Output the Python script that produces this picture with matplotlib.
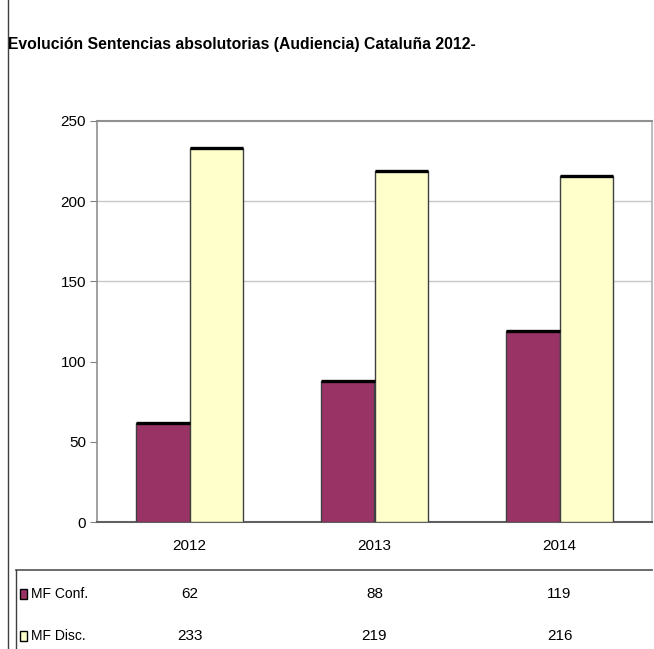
import matplotlib
matplotlib.use("Agg")
import matplotlib.pyplot as plt
import numpy as np
from matplotlib.lines import Line2D
from matplotlib.patches import Rectangle

title = "Evolución Sentencias absolutorias (Audiencia) Cataluña 2012-"
years = ["2012", "2013", "2014"]
series_names = ["MF Conf.", "MF Disc."]
mf_conf = [62, 88, 119]
mf_disc = [233, 219, 216]
colors = ["#993366", "#FFFFCC"]
yticks = [0, 50, 100, 150, 200, 250]

plt.rcParams['font.family'] = ['Liberation Sans', 'DejaVu Sans']
fs = 11
tfs = 11.3

W, H = 654, 649
fig = plt.figure(figsize=(W / 100, H / 100), dpi=100)

def fx(px):
    return px / W

def fy(py):
    return 1 - py / H

ax = fig.add_axes([fx(97), fy(522), fx(652) - fx(97), fy(121) - fy(522)])
x = np.arange(len(years))
bw = 0.287
vals = [mf_conf, mf_disc]
for i, (v, c) in enumerate(zip(vals, colors)):
    pos = x + (i - 0.5) * bw
    ax.bar(pos, v, width=bw, color=c, edgecolor="#404040", linewidth=1.0, zorder=3)
    ax.hlines(v, pos - bw / 2, pos + bw / 2, colors="black", linewidth=2.4, zorder=4)

ax.set_xlim(-0.5, len(years) - 0.5)
ax.set_ylim(0, 250)
ax.set_yticks(yticks)
ax.set_yticklabels([str(t) for t in yticks], fontsize=fs)
ax.set_xticks(x)
ax.set_xticklabels(years, fontsize=fs)
ax.tick_params(axis="x", length=0, pad=12)
ax.tick_params(axis="y", length=5, color="#808080", pad=3)
for g in [150, 200]:
    ax.axhline(g, color="#C8C8C8", linewidth=1.0, zorder=1)
ax.spines["left"].set_color("#909090")
ax.spines["left"].set_linewidth(1.2)
ax.spines["bottom"].set_color("#606060")
ax.spines["bottom"].set_linewidth(1.5)
ax.spines["top"].set_color("#909090")
ax.spines["top"].set_linewidth(1.5)
ax.spines["right"].set_color("#B0B0B0")
ax.spines["right"].set_linewidth(1.2)

# Title
fig.text(fx(8), fy(45), title, fontsize=tfs, fontweight="bold", ha="left", va="center")

# Figure left border
fig.add_artist(Line2D([fx(8), fx(8)], [0, 1], color="#404040", linewidth=1.0))

# Data table
fig.add_artist(Line2D([fx(16), fx(652)], [fy(570), fy(570)], color="#606060", linewidth=1.3))
fig.add_artist(Line2D([fx(16), fx(16)], [fy(570), 0], color="#404040", linewidth=1.0))
row_y = [594, 636]
col_x = [97 + 185 * (i + 0.5) for i in range(len(years))]
for name, v, c, ry in zip(series_names, vals, colors, row_y):
    fig.add_artist(Rectangle((fx(20), fy(ry + 5)), fx(7), fy(ry - 5) - fy(ry + 5),
                             facecolor=c, edgecolor="black", linewidth=1.0))
    fig.text(fx(31), fy(ry), name, fontsize=fs - 1, ha="left", va="center")
    for cx, val in zip(col_x, v):
        fig.text(fx(cx), fy(ry), str(val), fontsize=fs, ha="center", va="center")

fig.savefig("out.png", dpi=100)
